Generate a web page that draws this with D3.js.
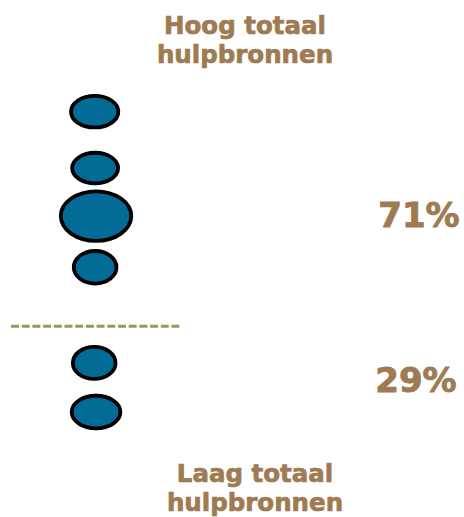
<!DOCTYPE html>
<html>
<head>
<meta charset="utf-8">
<script src="https://cdn.jsdelivr.net/npm/d3@7"></script>
<style>
  body { margin: 0; background: #fff; }
  .chart { width: 464px; height: 517px; }
</style>
</head>
<body>
<div class="chart"></div>
<script>
// bubble positions and sizes in % of the chart (x of width, y of height)
const bubbleX = [20.4, 20.5, 20.7, 20.5, 20.3, 20.7];
const bubbleY = [21.6, 32.5, 41.8, 51.7, 70.2, 79.7];
const bubbleW = [5.1, 4.95, 7.6, 4.6, 4.6, 5.25];
const bubbleH = [3.05, 2.95, 4.8, 3.15, 3.1, 3.15];

const groups = ["Hoog totaal hulpbronnen", "Laag totaal hulpbronnen"];
const shares = [71, 29];
const splitY = 63.1; // dashed divider between the groups

const width = 464, height = 517;
const color = "#9e7b52";

const svg = d3.select(".chart")
  .append("svg")
  .attr("width", width)
  .attr("height", height);

const x = d3.scaleLinear().domain([0, 100]).range([0, width]);
const y = d3.scaleLinear().domain([0, 100]).range([0, height]);

const bubbles = bubbleX.map((d, i) => ({ x: d, y: bubbleY[i], w: bubbleW[i], h: bubbleH[i] }));

svg.selectAll(".bubble")
  .data(bubbles)
  .enter()
  .append("ellipse")
  .attr("class", "bubble")
  .attr("cx", d => x(d.x))
  .attr("cy", d => y(d.y))
  .attr("rx", d => x(d.w))
  .attr("ry", d => y(d.h))
  .attr("fill", "#036c96")
  .attr("stroke", "black")
  .attr("stroke-width", 3.8);

svg.append("line")
  .attr("x1", x(2.37))
  .attr("x2", x(38.64))
  .attr("y1", y(splitY))
  .attr("y2", y(splitY))
  .attr("stroke", "#9d9463")
  .attr("stroke-width", 3)
  .attr("stroke-dasharray", "8,2.7");

// group titles, two lines each
const titles = [
  { lines: ["Hoog totaal", "hulpbronnen"], cx: 245, y0: 34 },
  { lines: ["Laag totaal", "hulpbronnen"], cx: 255, y0: 482 }
];

titles.forEach(t => {
  svg.append("text")
    .attr("x", t.cx)
    .attr("y", t.y0)
    .attr("text-anchor", "middle")
    .attr("font-family", "DejaVu Sans, Verdana, sans-serif")
    .attr("font-weight", "bold")
    .attr("font-size", 24.5)
    .attr("fill", color)
    .attr("stroke", color)
    .attr("stroke-width", 0.7)
    .selectAll("tspan")
    .data(t.lines)
    .enter()
    .append("tspan")
    .attr("x", t.cx)
    .attr("dy", (d, i) => i ? 29 : 0)
    .text(d => d);
});

const shareLabels = [{ v: shares[0], cx: 419, y: 227 }, { v: shares[1], cx: 416, y: 392 }];

svg.selectAll(".share")
  .data(shareLabels)
  .enter()
  .append("text")
  .attr("class", "share")
  .attr("x", d => d.cx)
  .attr("y", d => d.y)
  .attr("text-anchor", "middle")
  .attr("font-family", "DejaVu Sans, Verdana, sans-serif")
  .attr("font-weight", "bold")
  .attr("font-size", 34)
  .attr("fill", color)
  .attr("stroke", color)
  .attr("stroke-width", 0.9)
  .text(d => d.v + "%");
</script>
</body>
</html>
